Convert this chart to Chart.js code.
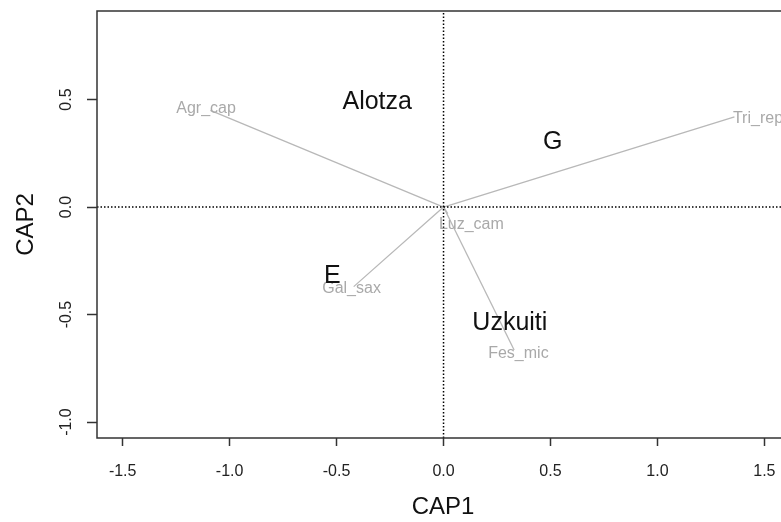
<!DOCTYPE html>
<html>
<head>
<meta charset="utf-8">
<script src="https://cdn.jsdelivr.net/npm/chart.js@4.4.1/dist/chart.umd.min.js"></script>
<style>
  html, body { margin: 0; padding: 0; background: #fff; overflow: hidden; }
  #wrap { width: 800px; height: 522px; }
</style>
</head>
<body>
<div id="wrap"><canvas id="cap"></canvas></div>
<script>
// species vectors (arrow ends) and where their names sit
const speciesNames = ["Agr_cap", "Tri_rep", "Gal_sax", "Fes_mic", "Luz_cam"];
const speciesX = [-1.09, 1.36, -0.42, 0.33, 0.02];
const speciesY = [0.45, 0.42, -0.37, -0.665, -0.03];
const speciesLabelX = [-1.11, 1.47, -0.43, 0.35, 0.13];
const speciesLabelY = [0.46, 0.41, -0.38, -0.68, -0.08];

// site centroids
const siteNames = ["Alotza", "G", "E", "Uzkuiti"];
const siteX = [-0.31, 0.51, -0.52, 0.31];
const siteY = [0.49, 0.30, -0.32, -0.54];

const xTicks = [-1.5, -1.0, -0.5, 0.0, 0.5, 1.0, 1.5];
const yTicks = [-1.0, -0.5, 0.0, 0.5];
const xMin = -1.62, xMax = 1.615;
const yMin = -1.074, yMax = 0.912;

const fontName = "'Liberation Sans', Arial, sans-serif";
const axisColor = "#333";

const datasets = [];

// dotted zero lines
datasets.push({
  data: [{ x: xMin, y: 0 }, { x: xMax, y: 0 }],
  borderColor: "#000", borderWidth: 1.5, borderDash: [1.5, 2], pointRadius: 0, showLine: true,
});
datasets.push({
  data: [{ x: 0, y: yMin }, { x: 0, y: yMax }],
  borderColor: "#000", borderWidth: 1.5, borderDash: [1.5, 2], pointRadius: 0, showLine: true,
});

for (let i = 0; i < speciesNames.length; i++) {
  datasets.push({
    data: [{ x: 0, y: 0 }, { x: speciesX[i], y: speciesY[i] }],
    borderColor: "#b8b8b8", borderWidth: 1.3, pointRadius: 0, showLine: true,
  });
}

datasets.push({
  data: speciesLabelX.map((v, i) => ({ x: v, y: speciesLabelY[i] })),
  names: speciesNames, textColor: "#a9a9a9", textSize: 16,
  pointRadius: 0, showLine: false,
});
datasets.push({
  data: siteX.map((v, i) => ({ x: v, y: siteY[i] })),
  names: siteNames, textColor: "#111", textSize: 25,
  pointRadius: 0, showLine: false,
});

// write names at the points, and draw the R style box
const textPlugin = {
  id: "textLabels",
  afterDatasetsDraw(chart) {
    const ctx = chart.ctx;
    chart.data.datasets.forEach((ds, di) => {
      if (!ds.names) return;
      const meta = chart.getDatasetMeta(di);
      ctx.save();
      ctx.fillStyle = ds.textColor;
      ctx.font = ds.textSize + "px " + fontName;
      ctx.textAlign = "center";
      ctx.textBaseline = "middle";
      meta.data.forEach((pt, i) => {
        ctx.fillText(ds.names[i], pt.x, pt.y);
      });
      ctx.restore();
    });
  },
  afterDraw(chart) {
    const a = chart.chartArea;
    const ctx = chart.ctx;
    ctx.save();
    ctx.strokeStyle = axisColor;
    ctx.lineWidth = 1.5;
    ctx.strokeRect(a.left, a.top, a.right - a.left, a.bottom - a.top);
    ctx.restore();
  },
};

new Chart(document.getElementById("cap"), {
  type: "scatter",
  data: { datasets },
  options: {
    responsive: true,
    maintainAspectRatio: false,
    animation: false,
    events: [],
    layout: { padding: { top: 11, right: 11, left: 0, bottom: 0 } },
    plugins: { legend: { display: false }, tooltip: { enabled: false } },
    scales: {
      x: {
        type: "linear", min: xMin, max: xMax,
        afterBuildTicks: (s) => { s.ticks = xTicks.map((v) => ({ value: v })); },
        afterFit: (s) => { s.height = 84; s.paddingLeft = 0; s.paddingRight = 0; },
        grid: { drawOnChartArea: false, drawTicks: true, tickLength: 8, tickColor: axisColor, tickWidth: 1.5 },
        border: { display: false },
        ticks: {
          color: "#222", padding: 16, maxRotation: 0,
          font: { family: fontName, size: 16 },
          callback: (v) => Number(v).toFixed(1),
        },
        title: {
          display: true, text: "CAP1", color: "#111",
          font: { family: fontName, size: 24 }, padding: { top: 0, bottom: 0 },
        },
      },
      y: {
        type: "linear", min: yMin, max: yMax,
        afterBuildTicks: (s) => { s.ticks = yTicks.map((v) => ({ value: v })); },
        afterFit: (s) => { s.width = 97; s.paddingTop = 0; s.paddingBottom = 0; },
        grid: { drawOnChartArea: false, drawTicks: true, tickLength: 10, tickColor: axisColor, tickWidth: 1.5 },
        border: { display: false },
        ticks: {
          color: "#222", padding: 7, minRotation: 90, maxRotation: 90, crossAlign: "center",
          font: { family: fontName, size: 16 },
          callback: (v) => Number(v).toFixed(1),
        },
        title: {
          display: true, text: "CAP2", color: "#111",
          font: { family: fontName, size: 24 }, padding: { top: 12, bottom: 0 },
        },
      },
    },
  },
  plugins: [textPlugin],
});
</script>
</body>
</html>
